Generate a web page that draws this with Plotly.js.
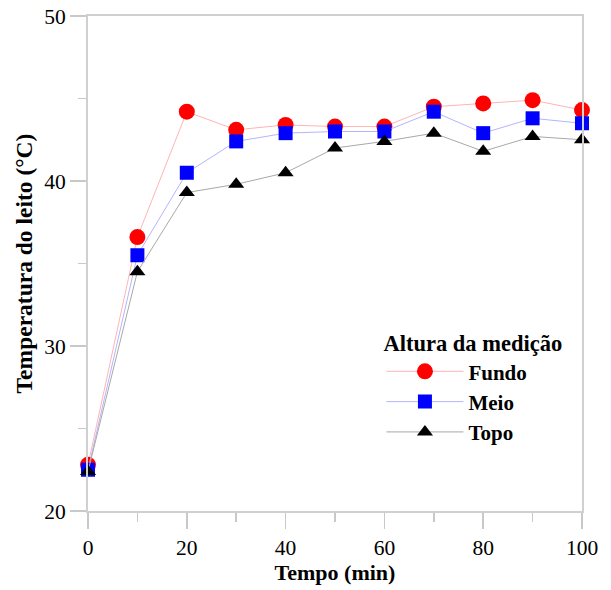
<!DOCTYPE html>
<html>
<head>
<meta charset="utf-8">
<script src="https://cdn.plot.ly/plotly-3.0.1.min.js"></script>
<style>html,body{margin:0;padding:0;background:#fff}#chart{width:611px;height:590px}</style>
</head>
<body>
<div id="chart"></div>
<script>
const tempo = [0, 10, 20, 30, 40, 50, 60, 70, 80, 90, 100];
const fundo = [22.8, 36.6, 44.2, 43.1, 43.4, 43.3, 43.3, 44.5, 44.7, 44.9, 44.3];
const meio  = [22.5, 35.5, 40.5, 42.4, 42.9, 43.0, 43.0, 44.2, 42.9, 43.8, 43.5];
const topo  = [22.4, 34.5, 39.3, 39.8, 40.5, 42.0, 42.4, 42.9, 41.8, 42.7, 42.5];
const seriesNames = ["Fundo", "Meio", "Topo"];

const font = "Liberation Serif, Times New Roman, serif";
const traces = [
  {x: tempo, y: fundo, name: seriesNames[0], mode: "lines+markers", cliponaxis: false,
   line: {color: "#ffb4b4", width: 1}, marker: {symbol: "circle", size: 16, color: "#ff0000"}},
  {x: tempo, y: meio, name: seriesNames[1], mode: "lines+markers", cliponaxis: false,
   line: {color: "#b4b4ff", width: 1}, marker: {symbol: "square", size: 14, color: "#0000ff"}},
  {x: tempo, y: topo, name: seriesNames[2], mode: "lines+markers", cliponaxis: false,
   line: {color: "#a8a8a8", width: 1}, marker: {symbol: "triangle-up", size: 14, color: "#000000"}}
];
const axCommon = {
  showgrid: false, zeroline: false, showline: true, mirror: true,
  linecolor: "#d0d0d0", linewidth: 2, ticks: "outside", ticklen: 16, tickwidth: 1.5,
  tickcolor: "#c8c8c8", tickfont: {family: font, size: 21.5, color: "#000"}
};
const layout = {
  width: 611, height: 590,
  margin: {l: 88, r: 29, t: 16, b: 79},
  paper_bgcolor: "#fff", plot_bgcolor: "#fff",
  font: {family: font, color: "#000"},
  xaxis: Object.assign({}, axCommon, {
    range: [0, 100], dtick: 20, tick0: 0,
    minor: {dtick: 10, ticklen: 9, ticks: "outside", tickcolor: "#c8c8c8", tickwidth: 1.5, showgrid: false},
    title: {text: "<b>Tempo (min)</b>", font: {family: font, size: 22, color: "#000"}, standoff: 2}
  }),
  yaxis: Object.assign({}, axCommon, {
    range: [20, 50], dtick: 10, tick0: 20,
    minor: {dtick: 5, ticklen: 8, ticks: "outside", tickcolor: "#c8c8c8", tickwidth: 1.5, showgrid: false},
    title: {text: "<b>Temperatura do leito (°C)</b>", font: {family: font, size: 23.5, color: "#000"}, standoff: 5}
  }),
  showlegend: true,
  legend: {
    x: 0.594, y: 0.382, xanchor: "left", yanchor: "top",
    bgcolor: "rgba(0,0,0,0)", borderwidth: 0,
    itemwidth: 77, tracegroupgap: 0,
    font: {family: font, size: 21, color: "#000", weight: "bold"},
    title: {text: "<b>Altura da medição</b>", font: {family: font, size: 22.5, color: "#000"}}
  }
};
Plotly.newPlot("chart", traces, layout, {displayModeBar: false, staticPlot: true});
</script>
</body>
</html>
